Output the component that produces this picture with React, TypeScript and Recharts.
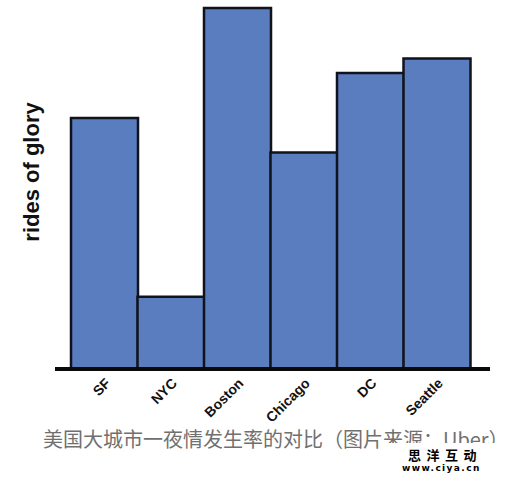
import React from 'react';
import { BarChart, Bar, XAxis, YAxis } from 'recharts';

// cities and relative ride counts (Boston = 100)
const cities = ['SF', 'NYC', 'Boston', 'Chicago', 'DC', 'Seattle'];
const rides = [69.5, 20, 100, 60, 82, 86];

const yLabel = 'rides of glory';
const caption = '美国大城市一夜情发生率的对比（图片来源：Uber）';

const data = cities.map((city, i) => ({ city, rides: rides[i] }));

const CityTick = (props: any) => {
  const { x, y, payload } = props;
  return (
    <text
      x={x}
      y={y}
      dy="0.72em"
      textAnchor="end"
      transform={`rotate(-45 ${x} ${y})`}
      fontFamily="'Liberation Sans', Arial, sans-serif"
      fontWeight="bold"
      fontSize={14}
      fill="#111"
    >
      {payload.value}
    </text>
  );
};

const App: React.FC = () => {
  return (
    <div style={{ position: 'absolute', left: 0, top: 0, width: 510, height: 482, background: '#fff', overflow: 'hidden' }}>
      <BarChart
        width={510}
        height={482}
        data={data}
        margin={{ top: 8, right: 20, left: 0, bottom: 53 }}
        barCategoryGap={0}
      >
        <XAxis
          dataKey="city"
          height={60}
          interval={0}
          padding={{ left: 16, right: 20 }}
          tickLine={false}
          axisLine={{ stroke: '#0a0a0a', strokeWidth: 4 }}
          tick={<CityTick />}
        />
        <YAxis
          width={55}
          domain={[0, 100]}
          tick={false}
          tickLine={false}
          axisLine={false}
          label={{
            content: () => (
              <text
                x={31}
                y={172}
                transform="rotate(-90 31 172)"
                textAnchor="middle"
                dominantBaseline="central"
                fontFamily="'Liberation Sans', Arial, sans-serif"
                fontWeight="bold"
                fontSize={22}
                fill="#111"
              >
                {yLabel}
              </text>
            ),
          }}
        />
        <Bar dataKey="rides" fill="#5a7dbf" stroke="#10131c" strokeWidth={2.5} isAnimationActive={false} />
      </BarChart>

      {/* caption under the chart */}
      <div
        style={{
          position: 'absolute',
          left: 43,
          top: 429,
          fontFamily: "'Noto Sans CJK SC', sans-serif",
          fontSize: 20,
          lineHeight: '19px',
          color: '#707070',
          whiteSpace: 'nowrap',
        }}
      >
        {caption}
      </div>

      {/* watermark: white patch over the caption's end */}
      <div style={{ position: 'absolute', left: 380, top: 443, width: 130, height: 39, background: '#fff' }} />
      <div
        style={{
          position: 'absolute',
          left: 408,
          top: 448,
          fontFamily: "'Noto Sans CJK SC', sans-serif",
          fontWeight: 'bold',
          fontSize: 13,
          lineHeight: '14px',
          letterSpacing: 5.5,
          whiteSpace: 'nowrap',
          color: '#000',
        }}
      >
        思洋互动
      </div>
      <div
        style={{
          position: 'absolute',
          left: 402,
          top: 463,
          fontFamily: "'DejaVu Sans', sans-serif",
          fontWeight: 'bold',
          fontSize: 9,
          lineHeight: '10px',
          letterSpacing: 1.4,
          whiteSpace: 'nowrap',
          color: '#000',
        }}
      >
        www.ciya.cn
      </div>
    </div>
  );
};

export default App;
